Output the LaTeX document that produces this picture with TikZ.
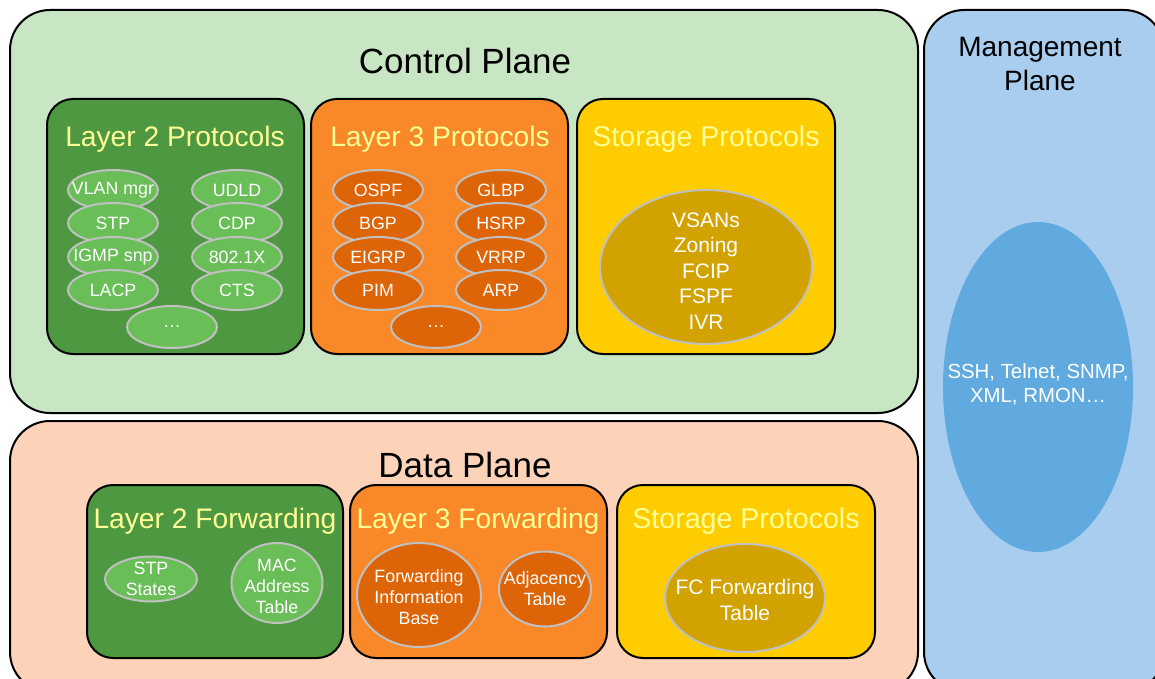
\documentclass[tikz,border=0pt]{standalone}
\usepackage{fontspec}
\setmainfont{Liberation Sans}
\usetikzlibrary{shapes.geometric}

\definecolor{ctrlbg}{RGB}{201,230,196}
\definecolor{databg}{RGB}{252,211,184}
\definecolor{mgmtbg}{RGB}{168,205,238}
\definecolor{mgmtring}{RGB}{96,170,223}
\definecolor{greenbox}{RGB}{78,152,66}
\definecolor{greenring}{RGB}{106,190,88}
\definecolor{orangebox}{RGB}{249,137,40}
\definecolor{orangering}{RGB}{222,100,8}
\definecolor{goldbox}{RGB}{255,204,0}
\definecolor{goldring}{RGB}{210,162,0}
\definecolor{ringgray}{RGB}{192,192,192}
\definecolor{titleyellow}{RGB}{255,255,150}

\begin{document}
\begin{tikzpicture}[x=0.5pt,y=-0.5pt,
  plane/.style={draw=black,line width=1pt,rounded corners=20pt},
  group/.style={draw=black,line width=1pt,rounded corners=13pt},
  pill/.style={ellipse,draw=ringgray,line width=1pt,inner sep=0pt,
    minimum width=45pt,minimum height=20pt},
  tag/.style={text=white,inner sep=0pt,align=center,
    font=\fontsize{8.9}{10.5}\selectfont},
  bigtag/.style={text=white,inner sep=0pt,align=center,
    font=\fontsize{10.5}{12.75}\selectfont},
  heading/.style={font=\fontsize{17.5}{21}\selectfont},
  grouptitle/.style={text=titleyellow,font=\fontsize{14.1}{17}\selectfont}]
\useasboundingbox (0,0) rectangle (1155,679);

% the three planes
\draw [plane, fill=ctrlbg] (10,10) rectangle (918,413);
\draw [plane, fill=databg] (10,421) rectangle (918,692);
\draw [plane, fill=mgmtbg] (924,10) rectangle (1164,692);
\node [heading] (ctrltitle) at (465,61) {Control Plane};
\node [heading] (datatitle) at (465,465) {Data Plane};
\node [font=\fontsize{14}{17}\selectfont, align=center] (mgmttitle) at (1040,64) {Management\\Plane};

% control plane groups
\draw [group, fill=greenbox] (47,99) rectangle (304,354);
\draw [group, fill=orangebox] (311,99) rectangle (568,354);
\draw [group, fill=goldbox] (577,99) rectangle (835,354);
\node [grouptitle] (l2title) at (175,139) {Layer 2 Protocols};
\node [grouptitle] (l3title) at (440,139) {Layer 3 Protocols};
\node [grouptitle, font=\fontsize{14.3}{17}\selectfont] (sttitle) at (706,139) {Storage Protocols};

% layer 2 protocols
\node [pill, fill=greenring, label={[tag]center:VLAN mgr}] (vlan) at (113,190) {};
\node [pill, fill=greenring, label={[tag]center:UDLD}] (udld) at (237,190) {};
\node [pill, fill=greenring, label={[tag]center:STP}] (stp) at (113,223) {};
\node [pill, fill=greenring, label={[tag]center:CDP}] (cdp) at (237,223) {};
\node [pill, fill=greenring, label={[tag]center:IGMP snp}] (igmp) at (113,257) {};
\node [pill, fill=greenring, label={[tag]center:802.1X}] (dotx) at (237,257) {};
\node [pill, fill=greenring, label={[tag]center:LACP}] (lacp) at (113,290) {};
\node [pill, fill=greenring, label={[tag]center:CTS}] (cts) at (237,290) {};
\node [pill, fill=greenring, minimum height=21pt, label={[tag]center:…}] (l2more) at (172,327) {};

% layer 3 protocols
\node [pill, fill=orangering, label={[tag]center:OSPF}] (ospf) at (378,190) {};
\node [pill, fill=orangering, label={[tag]center:GLBP}] (glbp) at (501,190) {};
\node [pill, fill=orangering, label={[tag]center:BGP}] (bgp) at (378,223) {};
\node [pill, fill=orangering, label={[tag]center:HSRP}] (hsrp) at (501,223) {};
\node [pill, fill=orangering, label={[tag]center:EIGRP}] (eigrp) at (378,257) {};
\node [pill, fill=orangering, label={[tag]center:VRRP}] (vrrp) at (501,257) {};
\node [pill, fill=orangering, label={[tag]center:PIM}] (pim) at (378,290) {};
\node [pill, fill=orangering, label={[tag]center:ARP}] (arp) at (501,290) {};
\node [pill, fill=orangering, minimum height=21pt, label={[tag]center:…}] (l3more) at (436,327) {};

% storage protocols
\node [pill, fill=goldring, minimum width=106pt, minimum height=77pt,
  label={[bigtag, yshift=-2pt]center:VSANs\\Zoning\\FCIP\\FSPF\\IVR}] (storage) at (706,267) {};

% data plane groups
\draw [group, fill=greenbox] (87,485) rectangle (343,658);
\draw [group, fill=orangebox] (350,485) rectangle (607,658);
\draw [group, fill=goldbox] (617,485) rectangle (875,658);
\node [grouptitle] (l2ftitle) at (215,521) {Layer 2 Forwarding};
\node [grouptitle] (l3ftitle) at (478,521) {Layer 3 Forwarding};
\node [grouptitle, font=\fontsize{14.3}{17}\selectfont] (stftitle) at (746,521) {Storage Protocols};

\node [pill, fill=greenring, minimum width=46pt, minimum height=22.5pt,
  label={[tag]center:STP\\States}] (stpstates) at (151,579) {};
\node [pill, fill=greenring, minimum width=45.5pt, minimum height=40pt,
  label={[tag, yshift=-1.5pt]center:MAC\\Address\\Table}] (mac) at (277,583) {};
\node [pill, fill=orangering, minimum width=62pt, minimum height=52pt,
  label={[tag, yshift=-1pt]center:Forwarding\\Information\\Base}] (fib) at (419,595) {};
\node [pill, fill=orangering, minimum width=46pt, minimum height=37.5pt,
  label={[tag]center:Adjacency\\Table}] (adj) at (545,589) {};
\node [pill, fill=goldring, minimum width=80pt, minimum height=54pt,
  label={[bigtag, yshift=-1pt]center:FC Forwarding\\Table}] (fctable) at (745,598) {};

% management plane
\node [ellipse, fill=mgmtring, minimum width=95pt, minimum height=165pt,
  label={[bigtag, font=\fontsize{10.2}{12}\selectfont, yshift=1.5pt]center:SSH, Telnet, SNMP,\\XML, RMON…}] (mgmt) at (1038,387) {};
\end{tikzpicture}
\end{document}
